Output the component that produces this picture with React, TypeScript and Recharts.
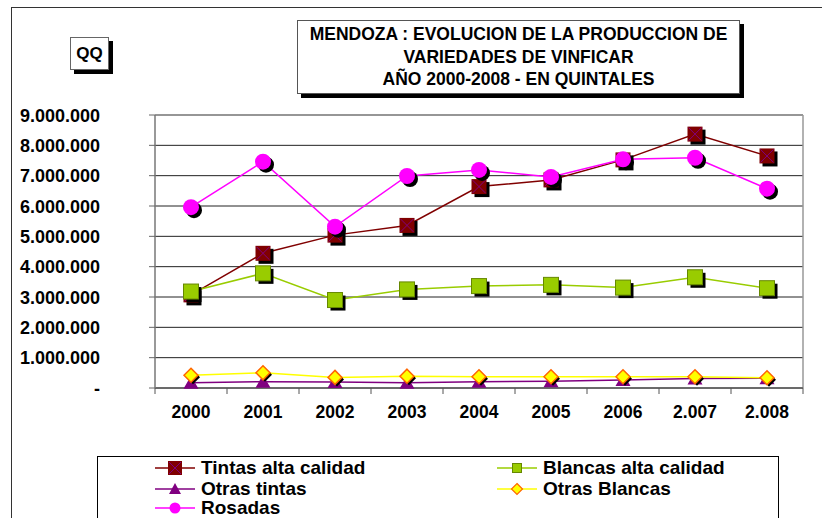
import React from "react";
import {
    CartesianGrid,
    Line,
    LineChart,
    ReferenceLine,
    XAxis,
    YAxis,
} from "recharts";

const years = ["2000", "2001", "2002", "2003", "2004", "2005", "2006", "2.007", "2.008"];
const tintasAlta = [3070000, 4440000, 5040000, 5360000, 6640000, 6860000, 7520000, 8370000, 7650000];
const blancasAlta = [3180000, 3780000, 2900000, 3250000, 3360000, 3400000, 3310000, 3650000, 3290000];
const otrasTintas = [170000, 210000, 200000, 170000, 210000, 220000, 260000, 310000, 320000];
const otrasBlancas = [420000, 500000, 350000, 390000, 370000, 370000, 370000, 370000, 340000];
const rosadas = [5960000, 7460000, 5320000, 6990000, 7190000, 6960000, 7540000, 7590000, 6570000];
const yTicks = [0, 1000000, 2000000, 3000000, 4000000, 5000000, 6000000, 7000000, 8000000, 9000000];
const xTicks = [-0.5, 0, 0.5, 1, 1.5, 2, 2.5, 3, 3.5, 4, 4.5, 5, 5.5, 6, 6.5, 7, 7.5, 8, 8.5];

const FONT = '"Liberation Sans", Arial, sans-serif';

const data = years.map((year, i) => ({
    idx: i,
    year,
    tintasAlta: tintasAlta[i],
    blancasAlta: blancasAlta[i],
    otrasTintas: otrasTintas[i],
    otrasBlancas: otrasBlancas[i],
    rosadas: rosadas[i],
}));

function formatQQ(value: number) {
    if (value === 0) return "-";
    return String(value).replace(/\B(?=(\d{3})+(?!\d))/g, ".");
}

function YTick(props: any) {
    const { x, y, payload } = props;
    return (
        <text
            x={x}
            y={y}
            dy={6.5}
            textAnchor="end"
            fontFamily={FONT}
            fontWeight={700}
            fontSize={18}
            fill="#000"
        >
            {formatQQ(payload.value)}
        </text>
    );
}

function XTick(props: any) {
    const { x, y, payload } = props;
    const v = payload.value as number;
    if (!Number.isInteger(v)) {
        return <line x1={x} x2={x} y1={y} y2={y + 6} stroke="#555" strokeWidth={1} />;
    }
    return (
        <text
            x={x}
            y={y + 30}
            textAnchor="middle"
            fontFamily={FONT}
            fontWeight={700}
            fontSize={17.5}
            fill="#000"
        >
            {years[v]}
        </text>
    );
}

function SquareX(props: any) {
    const { cx, cy, index } = props;
    if (cx == null || cy == null) return <g key={index} />;
    const s = 7.5;
    return (
        <g key={index}>
            <rect x={cx - s + 3} y={cy - s + 3} width={s * 2} height={s * 2} fill="#000" />
            <rect x={cx - s} y={cy - s} width={s * 2} height={s * 2} fill="#800000" />
            <line x1={cx - s + 1} y1={cy - s + 1} x2={cx + s - 1} y2={cy + s - 1} stroke="#800080" strokeWidth={1} />
            <line x1={cx + s - 1} y1={cy - s + 1} x2={cx - s + 1} y2={cy + s - 1} stroke="#800080" strokeWidth={1} />
        </g>
    );
}

function SquareGreen(props: any) {
    const { cx, cy, index } = props;
    if (cx == null || cy == null) return <g key={index} />;
    const s = 7.5;
    return (
        <g key={index}>
            <rect x={cx - s + 3} y={cy - s + 3} width={s * 2} height={s * 2} fill="#000" />
            <rect x={cx - s} y={cy - s} width={s * 2} height={s * 2} fill="#99CC00" stroke="#668800" strokeWidth={1} />
        </g>
    );
}

function Triangle(props: any) {
    const { cx, cy, index } = props;
    if (cx == null || cy == null) return <g key={index} />;
    return (
        <g key={index}>
            <polygon
                points={`${cx},${cy - 7} ${cx + 7.5},${cy + 6} ${cx - 7.5},${cy + 6}`}
                fill="#800080"
            />
        </g>
    );
}

function Diamond(props: any) {
    const { cx, cy, index } = props;
    if (cx == null || cy == null) return <g key={index} />;
    const s = 7;
    return (
        <g key={index}>
            <polygon
                points={`${cx + 2},${cy - s + 2} ${cx + s + 2},${cy + 2} ${cx + 2},${cy + s + 2} ${cx - s + 2},${cy + 2}`}
                fill="#000"
            />
            <polygon
                points={`${cx},${cy - s} ${cx + s},${cy} ${cx},${cy + s} ${cx - s},${cy}`}
                fill="#FFFF00"
                stroke="#FF6600"
                strokeWidth={1.5}
            />
        </g>
    );
}

function Circle(props: any) {
    const { cx, cy, index } = props;
    if (cx == null || cy == null) return <g key={index} />;
    return (
        <g key={index}>
            <circle cx={cx + 3} cy={cy + 3} r={8} fill="#000" />
            <circle cx={cx} cy={cy} r={8} fill="#FF00FF" />
        </g>
    );
}

function LegendItem({
    x,
    y,
    color,
    label,
    marker,
}: {
    x: number;
    y: number;
    color: string;
    label: string;
    marker: React.ReactNode;
}) {
    return (
        <div
            style={{
                position: "absolute",
                left: x,
                top: y - 10,
                height: 20,
                display: "flex",
                alignItems: "center",
                whiteSpace: "nowrap",
            }}
        >
            <svg width={42} height={20} style={{ display: "block" }}>
                <line x1={0} x2={40} y1={10} y2={10} stroke={color} strokeWidth={1.5} />
                {marker}
            </svg>
            <span
                style={{
                    marginLeft: 4,
                    fontFamily: FONT,
                    fontWeight: 700,
                    fontSize: 19,
                    lineHeight: "20px",
                    color: "#000",
                }}
            >
                {label}
            </span>
        </div>
    );
}

export default function App() {
    return (
        <div
            style={{
                position: "fixed",
                left: 0,
                top: 0,
                width: 822,
                height: 518,
                overflow: "hidden",
                background: "#ffffff",
                fontFamily: FONT,
            }}
        >
            <style>{"html, body { margin: 0; padding: 0; overflow: hidden; }"}</style>

            {/* outer frame */}
            <div
                style={{
                    position: "absolute",
                    left: 11,
                    top: 7,
                    width: 840,
                    height: 540,
                    border: "1px solid #333",
                }}
            />

            {/* QQ box */}
            <div
                style={{
                    position: "absolute",
                    left: 70,
                    top: 37,
                    width: 37,
                    height: 31,
                    border: "1px solid #666",
                    background: "#fff",
                    boxShadow: "4px 4px 0 #000",
                    display: "flex",
                    alignItems: "center",
                    justifyContent: "center",
                    fontWeight: 700,
                    fontSize: 17,
                }}
            >
                QQ
            </div>

            {/* title box */}
            <div
                style={{
                    position: "absolute",
                    left: 297,
                    top: 20,
                    width: 441,
                    height: 72,
                    border: "1px solid #555",
                    background: "#fff",
                    boxShadow: "4px 4px 0 #000",
                    display: "flex",
                    flexDirection: "column",
                    alignItems: "center",
                    justifyContent: "center",
                    fontWeight: 700,
                    fontSize: 17.5,
                    lineHeight: "22.5px",
                    textAlign: "center",
                    color: "#000",
                    whiteSpace: "nowrap",
                }}
            >
                <div>MENDOZA : EVOLUCION DE LA PRODUCCION DE</div>
                <div>VARIEDADES DE VINFICAR</div>
                <div>AÑO 2000-2008 - EN QUINTALES</div>
            </div>

            <div style={{ position: "absolute", left: 0, top: 0 }}>
                <LineChart
                    width={822}
                    height={518}
                    data={data}
                    margin={{ top: 115, right: 19, left: 0, bottom: 90 }}
                >
                    <CartesianGrid vertical={false} stroke="#222" strokeWidth={1} />
                    <XAxis
                        dataKey="idx"
                        type="number"
                        domain={[-0.5, 8.5]}
                        ticks={xTicks}
                        interval={0}
                        height={40}
                        tickLine={false}
                        tickSize={0}
                        tickMargin={0}
                        axisLine={{ stroke: "#444", strokeWidth: 1 }}
                        tick={<XTick />}
                    />
                    <YAxis
                        type="number"
                        domain={[0, 9000000]}
                        ticks={yTicks}
                        interval={0}
                        width={155}
                        tickSize={6}
                        tickMargin={49}
                        tickLine={{ stroke: "#666" }}
                        axisLine={{ stroke: "#777", strokeWidth: 1.5 }}
                        tick={<YTick />}
                    />
                    <ReferenceLine y={9000000} stroke="#999" strokeWidth={1.5} />
                    <ReferenceLine x={8.5} stroke="#999" strokeWidth={1.5} />

                    <Line
                        dataKey="tintasAlta"
                        stroke="#800000"
                        strokeWidth={1.5}
                        dot={SquareX}
                        activeDot={false}
                        isAnimationActive={false}
                    />
                    <Line
                        dataKey="blancasAlta"
                        stroke="#99CC00"
                        strokeWidth={1.5}
                        dot={SquareGreen}
                        activeDot={false}
                        isAnimationActive={false}
                    />
                    <Line
                        dataKey="otrasTintas"
                        stroke="#800080"
                        strokeWidth={1.5}
                        dot={Triangle}
                        activeDot={false}
                        isAnimationActive={false}
                    />
                    <Line
                        dataKey="otrasBlancas"
                        stroke="#FFFF00"
                        strokeWidth={1.5}
                        dot={Diamond}
                        activeDot={false}
                        isAnimationActive={false}
                    />
                    <Line
                        dataKey="rosadas"
                        stroke="#FF00FF"
                        strokeWidth={1.5}
                        dot={Circle}
                        activeDot={false}
                        isAnimationActive={false}
                    />
                </LineChart>
            </div>

            {/* legend */}
            <div
                style={{
                    position: "absolute",
                    left: 97,
                    top: 456,
                    width: 680,
                    height: 80,
                    border: "1px solid #000",
                    background: "#fff",
                }}
            />
            <LegendItem
                x={155}
                y={468}
                color="#800000"
                label="Tintas alta calidad"
                marker={
                    <g>
                        <rect x={13} y={3} width={14} height={14} fill="#800000" />
                        <line x1={14} y1={4} x2={26} y2={16} stroke="#800080" />
                        <line x1={26} y1={4} x2={14} y2={16} stroke="#800080" />
                    </g>
                }
            />
            <LegendItem
                x={155}
                y={489}
                color="#800080"
                label="Otras tintas"
                marker={<polygon points="20,4 26,15 14,15" fill="#800080" />}
            />
            <LegendItem
                x={155}
                y={508}
                color="#FF00FF"
                label="Rosadas"
                marker={<circle cx={20} cy={10} r={5.5} fill="#FF00FF" />}
            />
            <LegendItem
                x={497}
                y={468}
                color="#99CC00"
                label="Blancas alta calidad"
                marker={<rect x={15.5} y={5.5} width={9} height={9} fill="#99CC00" stroke="#668800" />}
            />
            <LegendItem
                x={497}
                y={489}
                color="#FFFF00"
                label="Otras Blancas"
                marker={<polygon points="20,4.5 25.5,10 20,15.5 14.5,10" fill="#FFFF00" stroke="#FF6600" strokeWidth={1.2} />}
            />
        </div>
    );
}
